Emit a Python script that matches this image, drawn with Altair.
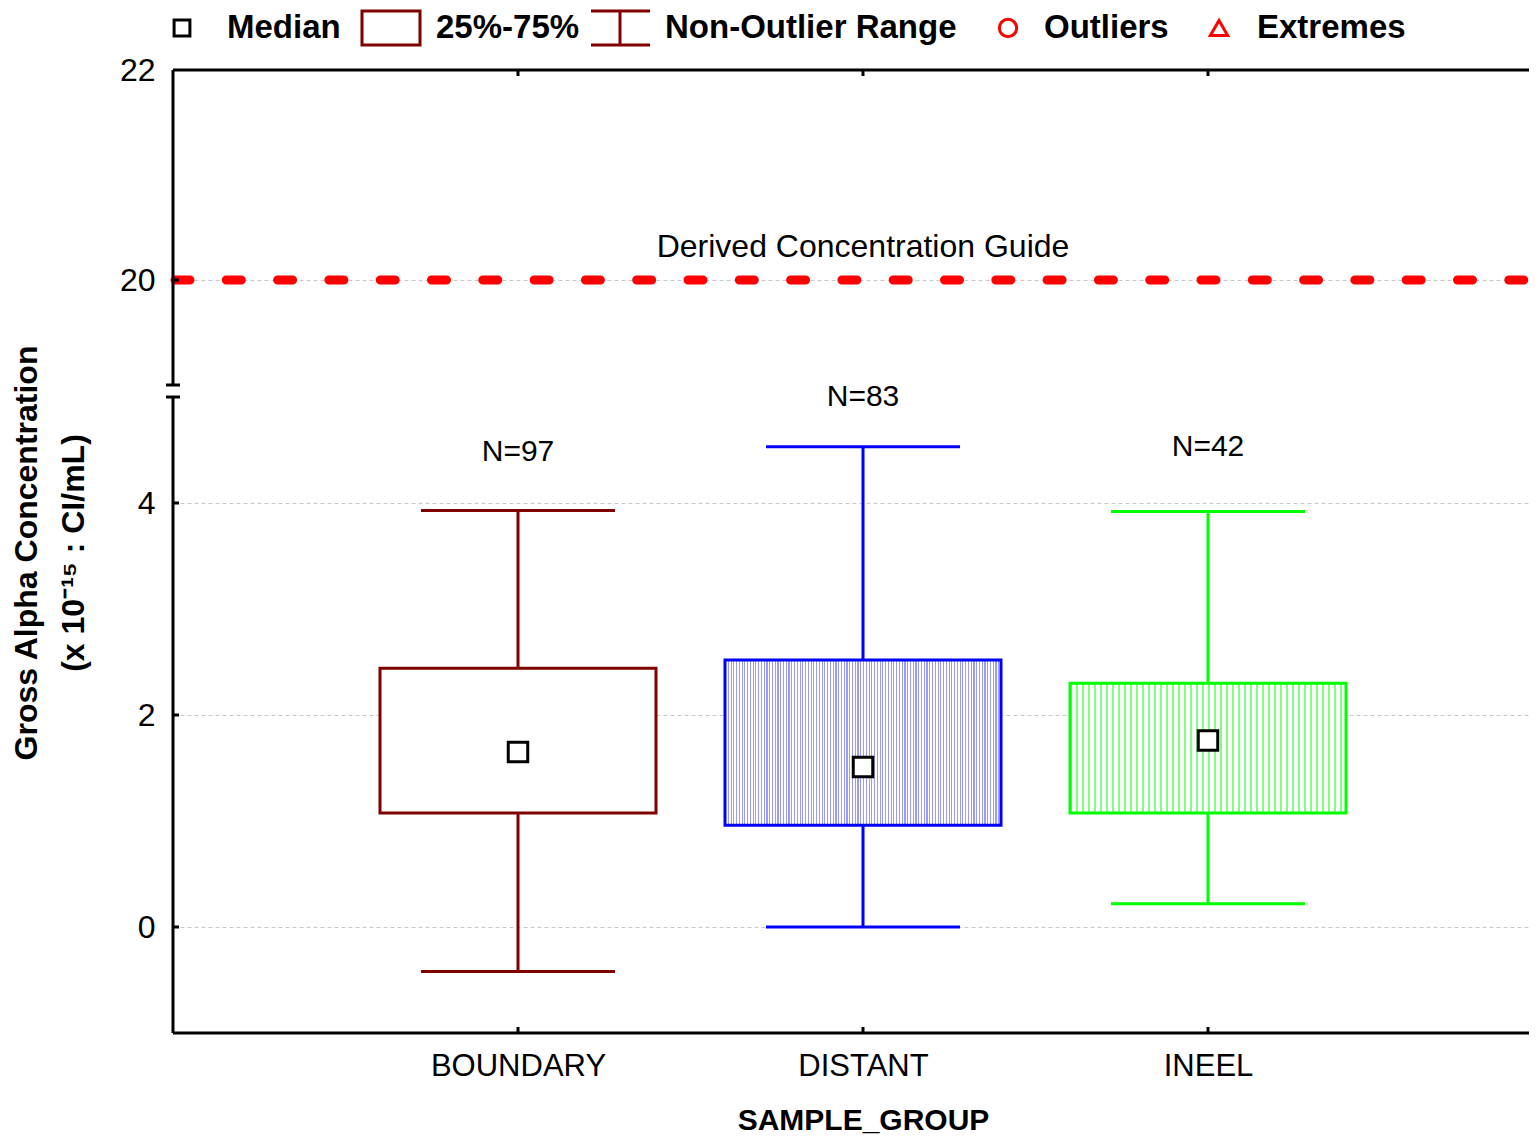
import altair as alt
import pandas as pd

# ---------------- data ----------------
groups = ["BOUNDARY", "DISTANT", "INEEL"]
whisker_low = [-0.42, 0.0, 0.22]
q1 = [1.075, 0.96, 1.075]
median = [1.65, 1.51, 1.76]
q3 = [2.44, 2.52, 2.30]
whisker_high = [3.93, 4.53, 3.92]
n_counts = [97, 83, 42]
n_label_y = [4.48, 5.0, 4.53]
box_colors = ["#800000", "#0000ff", "#00ff00"]

dcg_value = 20
dcg_label = "Derived Concentration Guide"
dcg_label_y = 20.31
dcg_label_group = "DISTANT"

y_ticks = [0, 2, 4, 20, 22]
y_break = [5, 19]
y_low_segment = [-1, 5]
y_high_segment = [19, 22]

# ---------------- style ----------------
W, H = 1356, 963      # visible plot area (page is 1537 wide)
XR = 1380             # full x range (right part runs off the page as in the original)
FONT = "Liberation Sans, Arial, sans-serif"

df = pd.DataFrame({
    "group": groups, "lo": whisker_low, "q1": q1, "med": median,
    "q3": q3, "hi": whisker_high,
    "nlab": [f"N={n}" for n in n_counts], "ny": n_label_y,
})

yscale = alt.Scale(domain=[-1, 5, 19, 22], range=[H, H - 636, H - 648, 0],
                   nice=False, zero=False)
xscale = alt.Scale(type="point", domain=groups, padding=1, range=[0, XR])
cscale = alt.Scale(domain=groups, range=box_colors)

xaxis = alt.Axis(
    title="SAMPLE_GROUP", labelFont=FONT, labelFontSize=31, labelColor="black",
    labelPadding=18, labelAngle=0, domain=False, ticks=False, grid=False,
    titleFont=FONT, titleFontSize=30, titleFontWeight="bold", titleColor="black",
    titlePadding=24)
X = alt.X("group:N", scale=xscale, axis=xaxis)

yaxis = alt.Axis(
    values=y_ticks, title=["Gross Alpha Concentration", "(x 10\u207b\u00b9\u2075 : CI/mL)"],
    labelFont=FONT, labelFontSize=32, labelColor="black", labelPadding=18,
    domain=False, ticks=False, grid=True, gridColor="#c8c8c8", gridDash=[4, 3],
    gridWidth=1, titleFont=FONT, titleFontSize=32, titleFontWeight="bold",
    titleColor="black", titleAngle=270, titleBaseline="bottom", titleAlign="center",
    titleX=-130, titleY=H / 2 + 1, titleLineHeight=47)


def Y(f):
    return alt.Y(f"{f}:Q", scale=yscale, axis=yaxis)

C = alt.Color("group:N", scale=cscale, legend=None)
base = alt.Chart(df)

# whisker vertical lines + caps
whisk = base.mark_rule(strokeWidth=3, opacity=1).encode(x=X, y=Y("lo"), y2="hi:Q", color=C)
cap_lo = base.mark_tick(size=194, thickness=3, orient="horizontal", opacity=1).encode(x=X, y=Y("lo"), color=C)
cap_hi = base.mark_tick(size=194, thickness=3, orient="horizontal", opacity=1).encode(x=X, y=Y("hi"), color=C)


def stripes(color, n, frac):
    stops = []
    for i in range(n):
        a = i / n
        b = (i + frac) / n
        c = (i + 1) / n
        stops += [{"offset": a, "color": color}, {"offset": b, "color": color},
                  {"offset": b, "color": "#ffffff"}, {"offset": c, "color": "#ffffff"}]
    return {"gradient": "linear", "x1": 0, "y1": 0, "x2": 1, "y2": 0, "stops": stops}

fills = ["#ffffff", stripes("#9a9aff", 100, 0.40), stripes("#80ff80", 46, 0.36)]
boxes = []
for g, col, fl in zip(groups, box_colors, fills):
    boxes.append(base.transform_filter(alt.datum.group == g).mark_bar(
        size=276, fill=fl, stroke=col, strokeWidth=3, opacity=1).encode(
        x=X, y=Y("q1"), y2="q3:Q"))

med = base.mark_square(size=380, fill="white", stroke="black", strokeWidth=3, opacity=1).encode(
    x=X, y=Y("med"))

nlabels = base.mark_text(font=FONT, fontSize=30, color="black", baseline="middle").encode(
    x=X, y=Y("ny"), text="nlab:N")

# DCG line and label
dcg = alt.Chart(pd.DataFrame({"v": [dcg_value]})).mark_rule(
    color="#ff0000", strokeWidth=9, strokeCap="round",
    strokeDash=[15, 36.3], strokeDashOffset=49.3).encode(
    x=alt.value(0), x2=alt.value(XR), y=Y("v"))
dcg_text = alt.Chart(pd.DataFrame({"group": [dcg_label_group], "v": [dcg_label_y], "t": [dcg_label]})).mark_text(
    font=FONT, fontSize=32, color="black", baseline="middle").encode(x=X, y=Y("v"), text="t:N")

# frame
frame_h = alt.Chart(pd.DataFrame({"v": [y_low_segment[0], y_high_segment[1]]})).mark_rule(
    color="black", strokeWidth=3).encode(x=alt.value(0), x2=alt.value(XR), y=Y("v"))
seg_df = pd.DataFrame({"a": [y_low_segment[0], y_high_segment[0]], "b": [y_low_segment[1], y_high_segment[1]]})
frame_l = alt.Chart(seg_df).mark_rule(color="black", strokeWidth=3).encode(
    x=alt.value(0), y=Y("a"), y2="b:Q")
brk = alt.Chart(pd.DataFrame({"v": y_break})).mark_rule(color="black", strokeWidth=3).encode(
    x=alt.value(-7), x2=alt.value(7), y=Y("v"))
yt = alt.Chart(pd.DataFrame({"v": y_ticks[:-1]})).mark_rule(color="black", strokeWidth=3).encode(
    x=alt.value(0), x2=alt.value(6), y=Y("v"))
xt_b = alt.Chart(pd.DataFrame({"group": groups})).mark_rule(color="black", strokeWidth=3).encode(
    x=X, y=alt.value(H), y2=alt.value(H - 6))
xt_t = alt.Chart(pd.DataFrame({"group": groups})).mark_rule(color="black", strokeWidth=3).encode(
    x=X, y=alt.value(0), y2=alt.value(6))

# legend (decoration, pixel placed above the plot)
LY = -42
leg_font = dict(font=FONT, fontSize=33, fontWeight="bold", color="black", baseline="middle", align="left")
one = alt.Chart(pd.DataFrame({"k": [0]}))
legend = [
    one.mark_square(size=250, fill="white", stroke="black", strokeWidth=3, opacity=1).encode(x=alt.value(9), y=alt.value(LY)),
    one.mark_text(text="Median", **leg_font).encode(x=alt.value(54), y=alt.value(LY)),
    one.mark_rect(fill="white", stroke="#800000", strokeWidth=3).encode(
        x=alt.value(189), x2=alt.value(247), y=alt.value(LY - 17), y2=alt.value(LY + 17)),
    one.mark_text(text="25%-75%", **leg_font).encode(x=alt.value(263), y=alt.value(LY)),
    one.mark_rule(color="#800000", strokeWidth=3).encode(
        x=alt.value(418), x2=alt.value(477), y=alt.value(LY - 17)),
    one.mark_rule(color="#800000", strokeWidth=3).encode(
        x=alt.value(418), x2=alt.value(477), y=alt.value(LY + 17)),
    one.mark_rule(color="#800000", strokeWidth=3).encode(
        x=alt.value(447), y=alt.value(LY - 17), y2=alt.value(LY + 17)),
    one.mark_text(text="Non-Outlier Range", **leg_font).encode(x=alt.value(492), y=alt.value(LY)),
    one.mark_point(shape="circle", size=300, stroke="#ff0000", strokeWidth=3, filled=False, opacity=1).encode(
        x=alt.value(835), y=alt.value(LY)),
    one.mark_text(text="Outliers", **leg_font).encode(x=alt.value(871), y=alt.value(LY)),
    one.mark_point(shape="triangle-up", size=300, stroke="#ff0000", strokeWidth=3, filled=False, opacity=1).encode(
        x=alt.value(1046), y=alt.value(LY)),
    one.mark_text(text="Extremes", **leg_font).encode(x=alt.value(1084), y=alt.value(LY)),
]

chart = alt.layer(
    dcg, dcg_text, whisk, cap_lo, cap_hi, *boxes, med, nlabels,
    frame_h, frame_l, brk, yt, xt_b, xt_t, *legend
).properties(
    width=W, height=H,
    autosize=alt.AutoSizeParams(type="none"),
    padding={"left": 165, "top": 62, "right": 0, "bottom": 106},
).configure_view(stroke=None)

chart.save("out.html", embed_options={"renderer": "svg", "actions": False})
